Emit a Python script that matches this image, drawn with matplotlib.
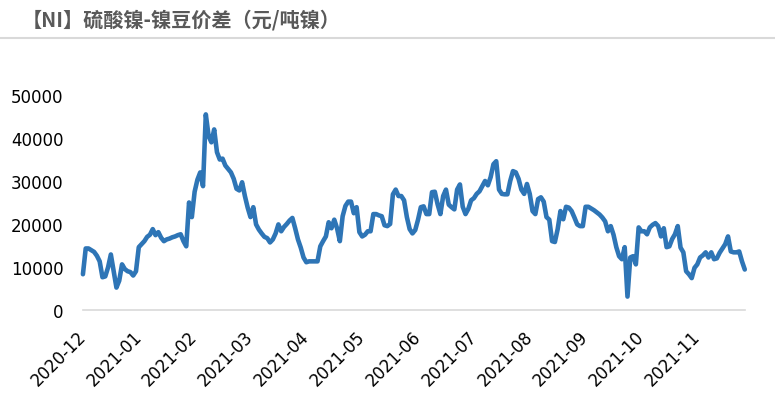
import matplotlib
matplotlib.use("Agg")
import matplotlib.pyplot as plt
import numpy as np

title = "【NI】硫酸镍-镍豆价差（元/吨镍）"

# spread values (yuan/t Ni), one per trading day
spread = [
    8300, 14300, 14300, 13900, 13500, 12600, 11300, 7600, 7800, 9900,
    12900, 9000, 5200, 6800, 10600, 9500, 9000, 8800, 8000, 9000,
    14600, 15300, 16000, 17000, 17500, 18800, 17400, 18100, 16800, 16000,
    16400, 16600, 16900, 17100, 17400, 17600, 16000, 14800, 25000, 21600,
    27500, 30300, 32000, 28800, 45500, 40500, 39000, 42000, 36700, 35000,
    35200, 33600, 32800, 32000, 30500, 28200, 27800, 29700, 26500, 23800,
    21600, 23900, 19900, 18700, 17800, 17000, 16700, 15700, 16400, 17800,
    19900, 18300, 19300, 20000, 20800, 21400, 19000, 16400, 14500, 12200,
    11100, 11300, 11300, 11300, 11300, 14800, 16000, 17100, 20400, 19000,
    21000, 19000, 16000, 21800, 24200, 25200, 25200, 22500, 23900, 18100,
    17100, 17500, 18300, 18300, 22300, 22300, 22000, 21800, 19700, 19500,
    20000, 26900, 28000, 26500, 26500, 25500, 21600, 18800, 17800, 18600,
    21000, 23900, 24100, 22300, 22300, 27400, 27500, 24600, 22300, 26500,
    28000, 24500, 23900, 23400, 28000, 29200, 24000, 22300, 23500, 25500,
    26000, 27000, 27600, 28800, 30000, 29000, 30900, 33900, 34600, 28000,
    27000, 26900, 26900, 30000, 32300, 32000, 30500, 28000, 27000, 29300,
    27000, 23000, 22300, 25800, 26200, 25200, 21600, 21000, 16000, 15800,
    18800, 23000, 21100, 24000, 23800, 23000, 21500, 19900, 19500, 19500,
    24000, 24000, 23600, 23200, 22700, 22200, 21500, 20600, 18300, 19500,
    17500, 14600, 12500, 11800, 14600, 3100, 12200, 12500, 10600, 19200,
    18300, 18300, 17600, 19200, 19800, 20200, 19500, 17100, 19000, 14600,
    14800, 16500, 17600, 19500, 14500, 13400, 9000, 8300, 7400, 9800,
    10600, 12200, 12700, 13400, 12200, 13400, 11800, 12000, 13300, 14300,
    15300, 17100, 13600, 13400, 13400, 13600, 11300, 9400,
]

tick_labels = ["2020-12", "2021-01", "2021-02", "2021-03", "2021-04", "2021-05",
               "2021-06", "2021-07", "2021-08", "2021-09", "2021-10", "2021-11"]
label_step = 20
y_ticks = [0, 10000, 20000, 30000, 40000, 50000]

x = np.arange(len(spread))

fig = plt.figure(figsize=(7.75, 4.14), dpi=100)
ax = fig.add_axes([0.107, 0.249, 0.854, 0.519])

ax.plot(x, spread, color="#2E75B6", linewidth=3.3, solid_joinstyle="round",
        solid_capstyle="round", clip_on=False)

ax.set_xlim(0, len(spread) - 1)
ax.set_ylim(0, 50000)
ax.set_yticks(y_ticks)
ax.set_yticklabels([str(v) for v in y_ticks], fontsize=12, color="#000000")
ax.set_xticks(x[::label_step])
ax.set_xticklabels(tick_labels, fontsize=12, rotation=45, ha="right",
                   va="center", rotation_mode="anchor")
ax.tick_params(axis="y", length=0, pad=14)
ax.tick_params(axis="x", length=0, pad=17)

for side in ["top", "right", "left"]:
    ax.spines[side].set_visible(False)
ax.spines["bottom"].set_color("#d9d9d9")
ax.spines["bottom"].set_linewidth(1.2)

fig.text(0.028, 0.951, title, fontsize=14.5, fontweight="bold", color="#595959",
         family=["Noto Sans CJK SC", "DejaVu Sans"], va="center", ha="left")
fig.add_artist(plt.Line2D([0, 1], [1 - 39 / 414, 1 - 39 / 414],
                          transform=fig.transFigure, color="#d9d9d9", linewidth=1.5))

fig.savefig("out.png", dpi=100)
